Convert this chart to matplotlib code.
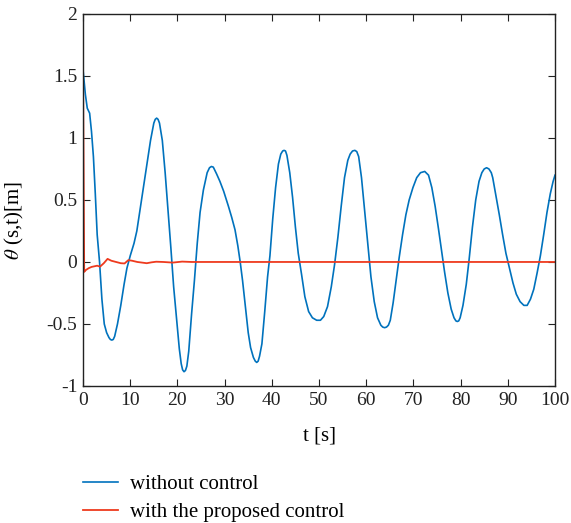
import matplotlib
matplotlib.use("Agg")
import matplotlib.pyplot as plt

t_without = [0, 0.5, 0.9, 1.4, 1.8, 2.2, 2.6, 3.0, 3.5, 4.0, 4.5, 5.0, 5.5, 5.8, 6.1, 6.4, 6.7, 7.3, 8.0, 8.7, 9.3,
             10.0, 10.8, 11.4, 12.0, 12.7, 13.5, 14.3, 15.0, 15.3, 15.6, 15.9, 16.2, 16.8, 17.4, 18.0, 18.6, 19.2, 19.8,
             20.4, 20.8, 21.1, 21.4, 21.7, 22.0, 22.4, 23.0, 23.6, 24.2, 24.8, 25.5, 26.3, 26.8, 27.2, 27.6, 28.3, 29.0, 29.8,
             30.8, 31.5, 32.2, 32.8, 33.3, 33.8, 34.4, 35.0, 35.5, 36.1, 36.5, 36.8, 37.1, 37.4, 37.9, 38.5, 39.1, 39.6,
             40.2, 40.8, 41.4, 41.9, 42.3, 42.6, 42.9, 43.2, 43.8, 44.4, 45.0, 45.6, 46.3, 47.0, 47.8, 48.6, 49.5,
             50.3, 51.0, 51.8, 52.6, 53.3, 54.0, 54.7, 55.4, 56.1, 56.6, 57.1, 57.6, 58.0, 58.4, 59.0, 59.7,
             60.4, 61.0, 61.7, 62.4, 63.1, 63.5, 63.9, 64.3, 64.7, 65.1, 65.7, 66.4, 67.0, 67.7, 68.4, 69.1, 69.9,
             70.7, 71.5, 72.4, 73.2, 73.9, 74.6, 75.3, 76.0, 76.6, 77.3, 78.0, 78.6, 79.0, 79.3, 79.6, 79.9,
             80.5, 81.2, 81.8, 82.5, 83.2, 83.9, 84.5, 85.0, 85.5, 86.0, 86.5, 86.8, 87.5, 88.2, 88.9, 89.6,
             90.4, 91.1, 91.8, 92.6, 93.4, 94.1, 94.8, 95.5, 96.2, 96.9, 97.6, 98.3, 99.0, 99.6, 100]
theta_without = [1.55, 1.35, 1.24, 1.20, 1.05, 0.85, 0.55, 0.22, 0.0, -0.30, -0.50, -0.57, -0.61, -0.625, -0.63,
                 -0.625, -0.60, -0.50, -0.35, -0.18, -0.05,
                 0.05, 0.15, 0.25, 0.40, 0.58, 0.78, 0.98, 1.12, 1.15, 1.16, 1.15, 1.12, 0.98, 0.72, 0.42, 0.12,
                 -0.20, -0.45,
                 -0.70, -0.82, -0.87, -0.885, -0.875, -0.84, -0.72, -0.42, -0.15, 0.15, 0.40, 0.58, 0.72, 0.76,
                 0.77, 0.765, 0.71, 0.65, 0.57,
                 0.45, 0.36, 0.26, 0.13, 0.0, -0.15, -0.36, -0.57, -0.69, -0.77, -0.80, -0.81, -0.80, -0.76,
                 -0.66, -0.40, -0.12, 0.05,
                 0.35, 0.60, 0.79, 0.87, 0.895, 0.90, 0.895, 0.86, 0.72, 0.52, 0.28, 0.07, -0.10, -0.28, -0.40,
                 -0.45, -0.47,
                 -0.47, -0.44, -0.36, -0.20, -0.02, 0.20, 0.45, 0.68, 0.82, 0.87, 0.895, 0.90, 0.89, 0.85, 0.68,
                 0.40,
                 0.12, -0.12, -0.32, -0.45, -0.51, -0.525, -0.53, -0.525, -0.51, -0.47, -0.33, -0.13, 0.04, 0.22,
                 0.38, 0.50, 0.60,
                 0.68, 0.72, 0.73, 0.70, 0.60, 0.45, 0.27, 0.08, -0.08, -0.25, -0.38, -0.45, -0.475, -0.48,
                 -0.475, -0.45,
                 -0.35, -0.18, 0.02, 0.28, 0.50, 0.65, 0.72, 0.75, 0.76, 0.75, 0.72, 0.68, 0.53, 0.38, 0.22, 0.07,
                 -0.06, -0.17, -0.26, -0.32, -0.35, -0.35, -0.30, -0.22, -0.09, 0.05, 0.22, 0.40, 0.55, 0.65,
                 0.70]

t_with = [0, 0.25, 0.6, 1.2, 1.8, 2.4, 3.0, 3.6, 4.4, 5.2, 6.0, 7.0, 8.0, 8.8, 9.6, 10.4, 11.5, 12.5,
          13.5, 14.5, 15.5, 17.0, 19.0, 21.0, 23.0, 100]
theta_with = [1.57, -0.08, -0.065, -0.05, -0.04, -0.035, -0.03, -0.038, -0.01, 0.025, 0.01, 0.0, -0.01,
              -0.012, 0.015, 0.01, 0.0, -0.005, -0.01, -0.003, 0.002, 0.0, -0.005, 0.003, 0.0, 0.0]

x_ticks = [0, 10, 20, 30, 40, 50, 60, 70, 80, 90, 100]
y_ticks = [-1, -0.5, 0, 0.5, 1, 1.5, 2]
y_tick_labels = ["-1", "-0.5", "0", "0.5", "1", "1.5", "2"]

plt.rcParams['font.family'] = ['Liberation Serif', 'DejaVu Serif']
plt.rcParams['mathtext.fontset'] = 'stix'

fig = plt.figure(figsize=(5.71, 5.23), dpi=100)
ax = fig.add_axes([0.1454, 0.262, 0.8266, 0.7113])

ax.plot(t_without, theta_without, color='#0072BD', lw=1.2, label='without control')
ax.plot(t_with, theta_with, color='#EE3A1E', lw=1.3, label='with the proposed control')

ax.set_xlim(0, 100)
ax.set_ylim(-1, 2)
ax.set_xticks(x_ticks)
ax.set_yticks(y_ticks)
ax.set_yticklabels(y_tick_labels)
ax.tick_params(direction='in', top=True, right=True, length=5, width=0.8,
               labelsize=14, colors='#222222', pad=4)
for s in ax.spines.values():
    s.set_linewidth(1.0)
    s.set_color('#222222')

ax.set_xlabel('t [s]', fontsize=15, labelpad=13)
ax.set_ylabel(r'$\theta$ (s,t)[m]', fontsize=15)
ax.yaxis.set_label_coords(-0.12, 0.445)

fig.legend(loc='upper left', bbox_to_anchor=(0.1126, 0.128),
           frameon=False, fontsize=15, handlelength=1.68, handletextpad=0.58, labelspacing=0.4,
           bbox_transform=fig.transFigure)

fig.savefig('out.png', dpi=100)
